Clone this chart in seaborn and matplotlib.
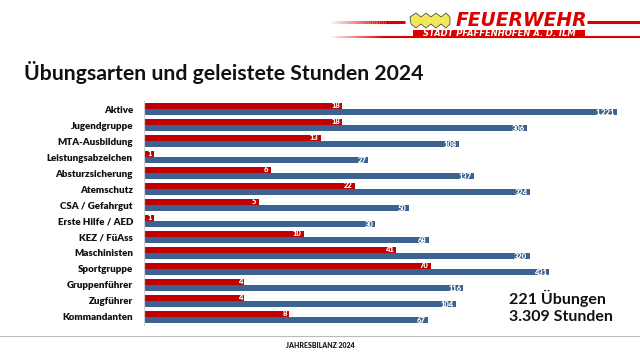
import matplotlib
matplotlib.use("Agg")
import matplotlib.pyplot as plt
import matplotlib.patches as mpatches
from matplotlib.lines import Line2D
from matplotlib.collections import LineCollection
import numpy as np
import pandas as pd
import seaborn as sns

categories = ["Aktive", "Jugendgruppe", "MTA-Ausbildung", "Leistungsabzeichen",
              "Absturzsicherung", "Atemschutz", "CSA / Gefahrgut", "Erste Hilfe / AED",
              "KEZ / FüAss", "Maschinisten", "Sportgruppe", "Gruppenführer",
              "Zugführer", "Kommandanten"]
uebungen = [18, 18, 13, 1, 6, 22, 5, 1, 10, 41, 70, 4, 4, 8]
stunden = [1221, 306, 108, 27, 137, 324, 50, 30, 68, 320, 431, 116, 104, 67]
stunden_labels = ["1.221", "306", "108", "27", "137", "324", "50", "30", "68",
                  "320", "431", "116", "104", "67"]
series_names = ["Übungen", "Stunden"]
total_text = ["221 Übungen", "3.309 Stunden"]

RED = "#C00000"
BLUE = "#3C6390"

sns.set_theme(style="white")
plt.rcParams["font.family"] = ["Lato", "DejaVu Sans"]

df = pd.DataFrame({
    "Kategorie": categories * 2,
    "Wert": uebungen + stunden,
    "Serie": [series_names[0]] * len(categories) + [series_names[1]] * len(categories),
})

fig = plt.figure(figsize=(6.4, 3.6), dpi=100)
fig.patch.set_facecolor("white")
ax = fig.add_axes([144 / 640, 35 / 360, 496 / 640, 224 / 360])

sns.barplot(data=df, y="Kategorie", x="Wert", hue="Serie", orient="h",
            palette=[RED, BLUE], hue_order=series_names, order=categories,
            width=0.76, saturation=1, legend=False, ax=ax, errorbar=None,
            linewidth=0, edgecolor="none")
ax.set_xscale("log")
ax.set_xlim(0.86, 1745)
ax.set_ylim(len(categories) - 0.5, -0.5)
ax.set_xlabel("")
ax.set_ylabel("")
ax.set_xticks([])
ax.xaxis.set_minor_locator(matplotlib.ticker.NullLocator())
for s in ["top", "right", "bottom"]:
    ax.spines[s].set_visible(False)
ax.spines["left"].set_color("#D0D0D0")
ax.spines["left"].set_linewidth(0.8)
ax.set_facecolor("none")

ax.set_yticks(range(len(categories)))
ax.set_yticklabels(categories, fontsize=7, fontweight="heavy", color="#111111")
ax.tick_params(axis="y", which="major", length=0, pad=8)
ax.set_yticks(np.arange(-0.5, len(categories), 1), minor=True)
ax.tick_params(axis="y", which="minor", length=4, color="#D0D0D0", width=0.8)

# value labels
for cont, labels in zip(ax.containers, [[str(v) for v in uebungen], stunden_labels]):
    for rect, lab in zip(cont, labels):
        xend = rect.get_x() + rect.get_width()
        yc = rect.get_y() + rect.get_height() / 2
        ax.annotate(lab, (xend, yc), xytext=(-1.5, 0), textcoords="offset points",
                    ha="right", va="center", fontsize=5.5, fontweight="heavy",
                    color="white")

# title
fig.text(24 / 640, 1 - 73 / 360, "Übungsarten und geleistete Stunden 2024",
         fontsize=15.3, fontweight="bold", color="#111111", va="center", ha="left")

# totals
fig.text(509 / 640, 1 - 298 / 360, total_text[0], fontsize=11.5, fontweight="bold",
         color="#111111", va="center", ha="left")
fig.text(509 / 640, 1 - 317 / 360, total_text[1], fontsize=11.5, fontweight="bold",
         color="#111111", va="center", ha="left")

# footer
fig.add_artist(Line2D([0, 1], [1 - 336 / 360] * 2, color="#BBBBBB", lw=0.8,
                      transform=fig.transFigure))
fig.text(0.5, 1 - 346 / 360, "JAHRESBILANZ 2024", fontsize=5, fontweight="heavy",
         color="#222222", ha="center", va="center")

# logo: fading red lines
def fade_line(x0, x1, xfade, y, lw):
    xs = np.linspace(x0, xfade, 30)
    segs = [[(xs[i] / 640, y), (xs[i + 1] / 640, y)] for i in range(len(xs) - 1)]
    cols = [(0.86, 0.0, 0.0, (i + 1) / (len(xs) - 1)) for i in range(len(xs) - 1)]
    fig.add_artist(LineCollection(segs, colors=cols, linewidths=lw,
                                  transform=fig.transFigure))
    fig.add_artist(Line2D([xfade / 640, x1 / 640], [y, y], color="#DC0000", lw=lw,
                          transform=fig.transFigure, solid_capstyle="butt"))

fade_line(330, 405, 385, 1 - 22 / 360, 2.2)
fig.add_artist(Line2D([587 / 640, 1.0], [1 - 22 / 360] * 2, color="#DC0000", lw=2.2,
                      transform=fig.transFigure, solid_capstyle="butt"))
fade_line(330, 640, 385, 1 - 36.5 / 360, 1.5)

# yellow emblem (wave shape)
wx = np.array([410, 416, 421, 426, 431, 436, 441, 446, 450, 450, 446, 441, 436, 431,
               426, 421, 416, 411, 410])
wy = np.array([17, 13, 17, 13, 17, 13, 17, 13, 17, 24, 28, 24, 28, 24, 28, 24, 28, 24, 17])
poly = mpatches.Polygon(np.column_stack([wx / 640, 1 - wy / 360]), closed=True,
                        facecolor="#F2E65A", edgecolor="#333333", lw=0.5,
                        transform=fig.transFigure)
fig.add_artist(poly)

fig.text(521 / 640, 1 - 20 / 360, "FEUERWEHR", fontsize=13.5, fontweight="bold",
         fontstyle="italic", family=["DejaVu Sans"], color="#DC0000",
         ha="center", va="center")
fig.add_artist(mpatches.Rectangle((413 / 640, 1 - 38 / 360), 172 / 640, 8 / 360,
                                  facecolor="#DC0000", edgecolor="none",
                                  transform=fig.transFigure))
fig.text(499 / 640, 1 - 34 / 360, "STADT PFAFFENHOFEN A. D. ILM", fontsize=6,
         fontweight="bold", fontstyle="italic", family=["DejaVu Sans"],
         color="white", ha="center", va="center")

fig.savefig("out.png", dpi=100, facecolor="white")
